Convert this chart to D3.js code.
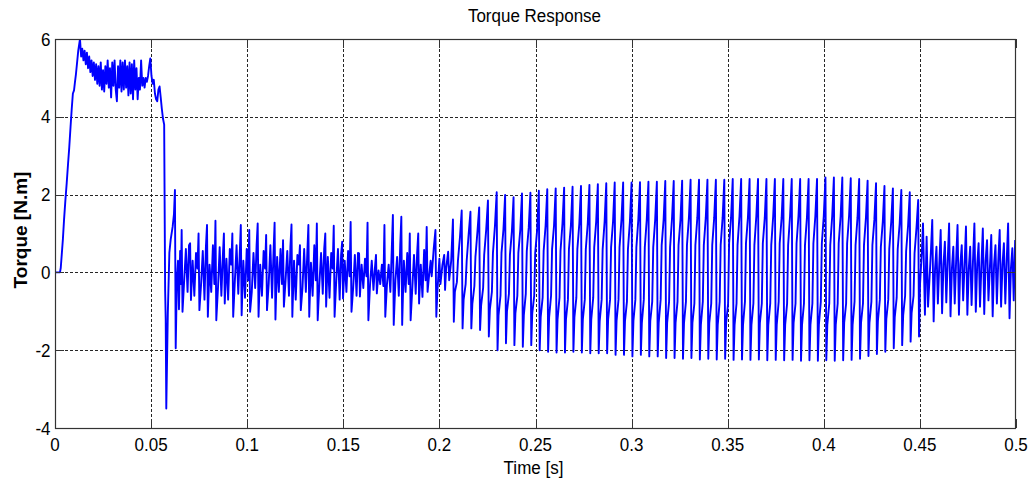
<!DOCTYPE html>
<html>
<head>
<meta charset="utf-8">
<script src="https://cdn.jsdelivr.net/npm/d3@7"></script>
<style>
  html, body { margin: 0; padding: 0; background: #ffffff; }
  svg { display: block; }
  text { font-family: "Liberation Sans", Arial, sans-serif; fill: #000; }
</style>
</head>
<body>
<svg id="chart" width="1034" height="482"></svg>
<script>
// ---- Axis ticks ----
const xTicks = [0, 0.05, 0.1, 0.15, 0.2, 0.25, 0.3, 0.35, 0.4, 0.45, 0.5];
const xTickLabels = ["0", "0.05", "0.1", "0.15", "0.2", "0.25", "0.3", "0.35", "0.4", "0.45", "0.5"];
const yTicks = [-4, -2, 0, 2, 4, 6];
const yTickLabels = ["-4", "-2", "0", "2", "4", "6"];

// ---- Torque samples ----
// start-up ramp (explicit times, s)
const startupTime = [0, 0.0026, 0.0030, 0.0035, 0.0041, 0.0047, 0.0054, 0.0061, 0.0068, 0.0074,
  0.0081, 0.0087, 0.0093, 0.0099, 0.0104, 0.0109, 0.0115, 0.0121, 0.0127, 0.0130];
const startupTorque = [0, 0, 0.12, 0.45, 0.85, 1.35, 1.85, 2.3, 2.8, 3.2,
  3.75, 4.2, 4.6, 4.68, 4.9, 5.1, 5.4, 5.7, 5.9, 6.0];

// high-torque plateau, sampled every 0.6 ms
const plateauStart = 0.0136;
const plateauStep = 0.0006;
const plateauTorque = [5.55, 5.75, 5.45, 5.7, 5.35, 5.65, 5.25, 5.55, 5.15, 5.45,
  5.05, 5.4, 4.95, 5.35, 4.85, 5.3, 4.8, 5.4, 4.7, 5.2,
  4.65, 5.3, 4.85, 5.45, 4.75, 5.25, 4.5, 5.4, 4.8, 5.45,
  4.7, 4.4, 5.3, 4.75, 5.45, 4.65, 5.4, 4.7, 5.45, 4.75,
  5.3, 4.55, 5.4, 4.6, 5.35, 4.45, 5.45, 4.7, 5.25, 4.45,
  5.0, 4.7, 5.45, 4.8, 5.0, 4.75, 5.0, 4.9, 5.05, 5.3,
  5.5, 5.05, 4.85, 4.95, 4.6, 4.45, 4.4, 4.7, 4.78, 4.5,
  4.2, 3.95, 3.8];

// load step: torque collapse and first rebound (explicit times, s)
const dropTime = [0.0573, 0.0576, 0.0579, 0.0587, 0.0595, 0.0602, 0.0612, 0.0619, 0.0624, 0.0628,
  0.0634, 0.0640, 0.0645, 0.0651, 0.0655];
const dropTorque = [-0.45, -1.2, -3.5, -1.05, 0.5, 0.85, 1.17, 1.5, 2.12, -1.95,
  -0.2, 0.3, -0.95, 0.55, -0.3];

// ripple after the step: six samples per ripple period
// (peak, trough, then four intermediate wiggles)
const noisyStart = 0.0659;
const noisyPeriod = 0.004396;
const noisyPhase = [0, 0.1, 0.3, 0.5, 0.7, 0.87];
const noisyTorque = [
  1.09, -1.01, -0.2, 0.6, -0.5, 0.7,
  0.75, -0.71, 0.3, -0.6, 0.5, 0.1,
  1.0, -0.97, -0.3, 0.55, -0.7, 0.65,
  1.22, -1.14, 0.2, -0.5, 0.7, -0.3,
  1.33, -1.23, -0.4, 0.65, -0.6, 0.4,
  1.0, -0.8, 0.35, -0.7, 0.6, 0.2,
  1.0, -1.14, -0.2, 0.7, -0.55, 0.45,
  1.22, -1.1, 0.3, -0.65, 0.6, -0.2,
  1.09, -1.01, -0.5, 0.5, -0.4, 0.7,
  1.26, -1.14, 0.2, -0.6, 0.55, 0.1,
  0.96, -0.97, -0.3, 0.7, -0.65, 0.5,
  1.28, -1.21, 0.4, -0.5, 0.6, -0.3,
  0.83, -0.88, -0.2, 0.55, -0.6, 0.65,
  1.23, -1.14, 0.3, -0.7, 0.45, 0.2,
  0.7, -0.97, -0.4, 0.6, -0.5, 0.5,
  1.22, -1.14, 0.25, -0.6, 0.7, -0.2,
  1.26, -1.23, -0.3, 0.5, -0.55, 0.6,
  1.0, -0.88, 0.4, -0.65, 0.5, 0.1,
  1.2, -1.14, -0.2, 0.6, -0.7, 0.45,
  0.79, -0.67, 0.3, -0.5, 0.55, -0.1,
  1.3, -1.01, -0.4, 0.45, -0.6, 0.5,
  0.49, -0.62, 0.2, -0.4, 0.35, -0.1,
  1.28, -1.23, -0.3, 0.3, -0.45, 0.1,
  0.45, -0.54, 0.05, -0.3, 0.2, -0.35,
  1.22, -1.14, -0.3, 0.2, -0.5, 0.6,
  1.48, -1.35, -0.2, 0.4, -0.6, 0.7,
  1.43, -1.35, 0.3, -0.5, 0.5, -0.3,
  1.0, -1.23, -0.4, 0.45, -0.55, 0.5,
  1.0, -0.8, 0.2, -0.63, 0.58, -0.2
];

// stepped oscillation: peak, trough, then the staircase back up
const stepPhase = [0, 0.1, 0.22, 0.45, 0.57, 0.8];

// growing oscillation around 0.2 s
const transitionStart = 0.19339;
const transitionPeriod = 0.004553;
const transitionTorque = [
  1.17, -0.5, -0.2, 0.3, -0.1, 0.6,
  1.09, -1.14, -0.5, 0.35, -0.3, 0.2,
  0.45, -0.45, 0.1, 0.53, -0.2, 0.3,
  1.36, -1.27, -0.5, -0.25, 0.3, 0.9,
  1.59, -1.44, -0.7, -0.3, 0.3, 1.0,
  1.56, -1.44, -0.8, -0.35, 0.4, 1.05,
  1.67, -1.48, -0.85, -0.4, 0.45, 1.1,
  1.85, -1.65, -0.95, -0.5, 0.5, 1.2
];

// sustained oscillation, 0.23 s to 0.45 s
const steadyStart = 0.22981;
const steadyPeriod = 0.004386;
const steadyTorque = [
  2.06, -2.0, -1.1, -0.6, 0.5, 1.1,
  1.99, -1.82, -1.0, -0.55, 0.45, 1.05,
  1.93, -1.87, -1.05, -0.6, 0.5, 1.1,
  2.03, -1.91, -1.1, -0.55, 0.55, 1.15,
  2.05, -1.87, -1.05, -0.6, 0.5, 1.1,
  2.1, -2.0, -1.15, -0.65, 0.55, 1.2,
  2.14, -2.04, -1.15, -0.6, 0.6, 1.2,
  2.16, -2.06, -1.2, -0.65, 0.55, 1.25,
  2.18, -2.06, -1.2, -0.7, 0.6, 1.2,
  2.2, -2.04, -1.15, -0.65, 0.6, 1.25,
  2.22, -2.06, -1.2, -0.7, 0.6, 1.25,
  2.25, -2.08, -1.2, -0.65, 0.65, 1.3,
  2.27, -2.08, -1.25, -0.7, 0.6, 1.3,
  2.29, -2.08, -1.2, -0.7, 0.65, 1.3,
  2.31, -2.12, -1.25, -0.7, 0.65, 1.35,
  2.31, -2.12, -1.25, -0.75, 0.6, 1.3,
  2.31, -2.16, -1.25, -0.7, 0.65, 1.35,
  2.32, -2.12, -1.3, -0.7, 0.65, 1.35,
  2.33, -2.16, -1.25, -0.75, 0.65, 1.35,
  2.33, -2.16, -1.3, -0.7, 0.7, 1.35,
  2.35, -2.2, -1.3, -0.75, 0.65, 1.4,
  2.35, -2.2, -1.3, -0.75, 0.7, 1.35,
  2.36, -2.22, -1.3, -0.75, 0.7, 1.4,
  2.38, -2.2, -1.3, -0.8, 0.7, 1.4,
  2.38, -2.24, -1.35, -0.75, 0.7, 1.4,
  2.38, -2.22, -1.3, -0.8, 0.7, 1.4,
  2.38, -2.24, -1.35, -0.75, 0.7, 1.4,
  2.38, -2.22, -1.3, -0.8, 0.75, 1.4,
  2.4, -2.25, -1.35, -0.8, 0.7, 1.45,
  2.4, -2.24, -1.35, -0.75, 0.75, 1.4,
  2.4, -2.25, -1.35, -0.8, 0.7, 1.45,
  2.4, -2.24, -1.3, -0.8, 0.75, 1.4,
  2.4, -2.26, -1.35, -0.8, 0.7, 1.45,
  2.4, -2.25, -1.35, -0.75, 0.75, 1.4,
  2.4, -2.26, -1.35, -0.8, 0.7, 1.45,
  2.4, -2.25, -1.3, -0.8, 0.75, 1.45,
  2.4, -2.27, -1.35, -0.8, 0.7, 1.4,
  2.4, -2.26, -1.35, -0.8, 0.75, 1.45,
  2.4, -2.27, -1.35, -0.75, 0.75, 1.45,
  2.44, -2.26, -1.35, -0.8, 0.7, 1.45,
  2.44, -2.27, -1.35, -0.8, 0.75, 1.45,
  2.44, -2.26, -1.3, -0.8, 0.75, 1.45,
  2.42, -2.25, -1.35, -0.75, 0.7, 1.4,
  2.4, -2.22, -1.3, -0.8, 0.7, 1.4,
  2.36, -2.15, -1.3, -0.75, 0.7, 1.35,
  2.29, -2.1, -1.25, -0.7, 0.65, 1.3,
  2.22, -2.04, -1.2, -0.7, 0.6, 1.3,
  2.16, -1.95, -1.15, -0.65, 0.6, 1.25,
  2.12, -1.87, -1.1, -0.6, 0.55, 1.2,
  2.06, -1.78, -1.05, -0.6, 0.5, 1.15,
  1.86, -1.65, -0.3, 0.6, 1.26, -1.09
];

// settling ripple after 0.45 s, sampled every 0.731 ms
const settleStart = 0.4535;
const settleStep = 0.000731;
const settleTorque = [
  0.92, -0.88, -0.2, 0.5, 1.35, -1.26, 0.1, 0.66, -0.8, 0.2,
  1.09, -1.05, 0.2, 0.79, -0.77, 0.3, 1.26, -1.13, 0.1, 0.66,
  -0.8, 0.3, 1.22, -1.09, 0.2, 0.7, -0.72, 0.2, 1.18, -1.09,
  0.1, 0.66, -0.84, 0.3, 1.26, -1.01, 0.2, 0.75, -0.88, 0.2,
  1.13, -1.07, 0.3, 0.83, -0.72, 0.1, 0.96, -1.13, 0.2, 0.7,
  -0.8, 0.3, 1.09, -0.88, 0.2, 0.75, -0.8, 0.3, 1.26, -1.18,
  0.1, 0.62, -0.72, 0.83
];

// ---- Assemble the time series ----
const series = [];
function pushCycles(start, period, phase, values) {
  values.forEach((v, i) => {
    const c = Math.floor(i / phase.length), k = i % phase.length;
    series.push([start + (c + phase[k]) * period, v]);
  });
}
startupTime.forEach((t, i) => series.push([t, startupTorque[i]]));
plateauTorque.forEach((v, i) => series.push([plateauStart + i * plateauStep, v]));
dropTime.forEach((t, i) => series.push([t, dropTorque[i]]));
pushCycles(noisyStart, noisyPeriod, noisyPhase, noisyTorque);
pushCycles(transitionStart, transitionPeriod, stepPhase, transitionTorque);
pushCycles(steadyStart, steadyPeriod, stepPhase, steadyTorque);
settleTorque.forEach((v, i) => series.push([settleStart + i * settleStep, v]));

// ---- Layout ----
const plotLeft = 55, plotRight = 1016, plotTop = 39, plotBottom = 428;
const svg = d3.select("#chart");

const x = d3.scaleLinear().domain([0, 0.5]).range([plotLeft, plotRight]);
const y = d3.scaleLinear().domain([-4, 6]).range([plotBottom, plotTop]);

// grid
const grid = svg.append("g")
  .attr("stroke", "#262626")
  .attr("stroke-width", 1)
  .attr("stroke-dasharray", "2.5,2.5")
  .attr("shape-rendering", "crispEdges");
grid.selectAll("line.gx")
  .data(xTicks.slice(1, -1))
  .join("line")
  .attr("class", "gx")
  .attr("x1", d => Math.round(x(d)) + 0.5).attr("x2", d => Math.round(x(d)) + 0.5)
  .attr("y1", plotTop).attr("y2", plotBottom);
grid.selectAll("line.gy")
  .data(yTicks.slice(1, -1))
  .join("line")
  .attr("class", "gy")
  .attr("y1", d => Math.round(y(d)) + 0.5).attr("y2", d => Math.round(y(d)) + 0.5)
  .attr("x1", plotLeft).attr("x2", plotRight);

// torque trace
svg.append("clipPath").attr("id", "plotArea")
  .append("rect").attr("x", plotLeft).attr("y", plotTop)
  .attr("width", plotRight - plotLeft).attr("height", plotBottom - plotTop);

const line = d3.line().x(d => x(d[0])).y(d => y(d[1]));
svg.append("path")
  .datum(series)
  .attr("clip-path", "url(#plotArea)")
  .attr("fill", "none")
  .attr("stroke", "#0000ff")
  .attr("stroke-width", 1.9)
  .attr("stroke-linejoin", "round")
  .attr("d", line);

// inward ticks on all four sides
const tickLen = 9;
function styleAxis(g) {
  g.select(".domain").remove();
  g.selectAll(".tick line").attr("stroke", "#333").attr("shape-rendering", "crispEdges");
  g.selectAll(".tick text").remove();
}
svg.append("g").attr("transform", `translate(0,${plotBottom})`)
  .call(d3.axisBottom(x).tickValues(xTicks).tickSize(-tickLen).tickFormat(""))
  .call(styleAxis);
svg.append("g").attr("transform", `translate(0,${plotTop})`)
  .call(d3.axisTop(x).tickValues(xTicks).tickSize(-tickLen).tickFormat(""))
  .call(styleAxis);
svg.append("g").attr("transform", `translate(${plotLeft},0)`)
  .call(d3.axisLeft(y).tickValues(yTicks).tickSize(-tickLen).tickFormat(""))
  .call(styleAxis);
svg.append("g").attr("transform", `translate(${plotRight},0)`)
  .call(d3.axisRight(y).tickValues(yTicks).tickSize(-tickLen).tickFormat(""))
  .call(styleAxis);

// axes box
svg.append("rect")
  .attr("x", plotLeft + 0.5).attr("y", plotTop + 0.5)
  .attr("width", plotRight - plotLeft - 1).attr("height", plotBottom - plotTop)
  .attr("fill", "none").attr("stroke", "#333").attr("stroke-width", 1.2);

// tick labels
const stretch = 1.12;
svg.append("g").selectAll("text")
  .data(xTicks)
  .join("text")
  .attr("transform", d => `translate(${x(d)},450.5) scale(1,${stretch})`)
  .attr("text-anchor", "middle")
  .style("font-size", "17px")
  .text((d, i) => xTickLabels[i]);
svg.append("g").selectAll("text")
  .data(yTicks)
  .join("text")
  .attr("transform", d => `translate(50.5,${y(d) + 6.5}) scale(1,${stretch})`)
  .attr("text-anchor", "end")
  .style("font-size", "17px")
  .text((d, i) => yTickLabels[i]);

// title and axis titles
svg.append("text")
  .attr("transform", `translate(534.5,21.5) scale(1,${stretch})`)
  .attr("text-anchor", "middle")
  .style("font-size", "17px")
  .text("Torque Response");
svg.append("text")
  .attr("transform", `translate(533.5,474) scale(1,${stretch})`)
  .attr("text-anchor", "middle")
  .style("font-size", "17px")
  .text("Time [s]");
svg.append("text")
  .attr("transform", "translate(27,230) rotate(-90)")
  .attr("text-anchor", "middle")
  .style("font-size", "19px")
  .style("font-weight", "bold")
  .text("Torque [N.m]");
</script>
</body>
</html>
